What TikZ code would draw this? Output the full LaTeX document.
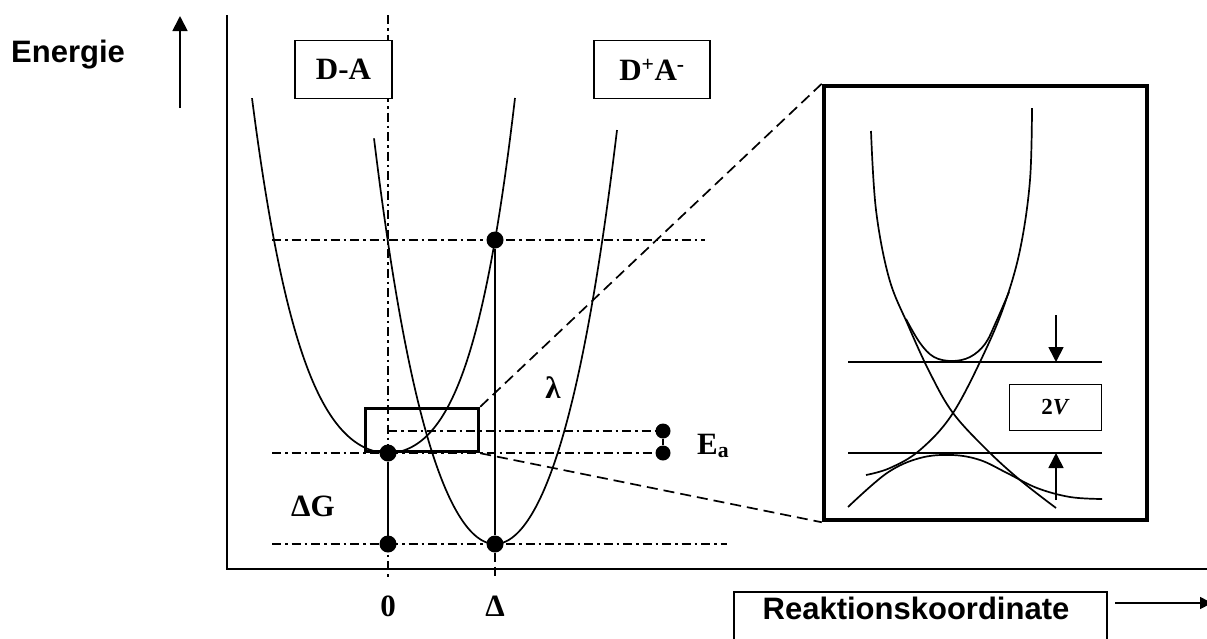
\documentclass[tikz,border=0pt]{standalone}
\usepackage{fontspec}
\setmainfont{Liberation Serif}
\newfontfamily\arialfont{Liberation Sans}
\usetikzlibrary{arrows.meta}
\begin{document}
\begin{tikzpicture}[x=1pt,y=-1pt,
  curve/.style={line width=1.7pt},
  dashdot/.style={line width=1.6pt, dash pattern=on 9pt off 4pt on 2.5pt off 4pt},
  zoomline/.style={line width=1.7pt, dash pattern=on 11pt off 6pt},
  dotnode/.style={circle, fill=black, inner sep=0pt, minimum size=17pt},
  smalldot/.style={circle, fill=black, inner sep=0pt, minimum size=15pt},
  labelbox/.style={draw, fill=white, line width=1.6pt, minimum height=58pt, inner sep=0pt},
  serifbold/.style={font=\fontsize{31}{36}\selectfont\bfseries, inner sep=0pt},
  sansbold/.style={font=\fontsize{31}{36}\selectfont\arialfont\bfseries, inner sep=0pt},
  bigtip/.style={-{Triangle[length=15pt,width=15pt]}},
]
\useasboundingbox (0,0) rectangle (1207,638);

% axes
\coordinate (ytop) at (227,15);
\coordinate (origin) at (227,569);
\coordinate (xend) at (1212,569);
\draw[line width=2.5pt] (ytop) -- (origin) -- (xend);

% Energie
\node[sansbold, anchor=base west] (energie) at (11,62) {Energie};
\coordinate (ea0) at (180,108);
\coordinate (ea1) at (180,16);
\draw[line width=1.8pt, bigtip] (ea0) -- (ea1);

% vertical reference line
\coordinate (v0top) at (388,15);
\coordinate (v0bot) at (388,578);
\draw[dashdot] (v0top) -- (v0bot);

% dots
\node[dotnode] (d0) at (388,453) {};
\node[dotnode] (d1) at (388,544) {};
\node[dotnode] (d2) at (495,240) {};
\node[dotnode] (d3) at (495,544) {};
\node[smalldot] (e1) at (663,431) {};
\node[smalldot] (e2) at (663,453) {};

\coordinate (v1bot) at (495,578);
\draw[line width=1.6pt, dash pattern=on 9pt off 5pt] (d3) -- (v1bot);

% horizontal dash-dot lines
\coordinate (h1a) at (272,240); \coordinate (h1b) at (705,240);
\coordinate (h2a) at (272,453);
\coordinate (h3a) at (388,431);
\coordinate (h4a) at (272,544); \coordinate (h4b) at (727,544);
\draw[dashdot] (h1a) -- (h1b);
\draw[dashdot] (h2a) -- (e2.west);
\draw[dashdot] (h3a) -- (e1.west);
\draw[dashdot] (h4a) -- (h4b);

% solid verticals
\draw[line width=1.7pt] (d2) -- (d3);
\draw[line width=1.7pt] (d0) -- (d1);
\draw[line width=2pt] (e1) -- (e2);

% D-A parabola
\draw[curve] plot[domain=-136:0, samples=70, smooth] ({388+\x},{453-(97.7*(\x/100)*(\x/100)+50.9*(\x/100)*(\x/100)*(\x/100)*(\x/100))})
  -- plot[domain=0:127, samples=70, smooth] ({388+\x},{453-(102.7*(\x/100)*(\x/100)+72.8*(\x/100)*(\x/100)*(\x/100)*(\x/100))});
% D+A- parabola
\draw[curve] plot[domain=-121:122, samples=121, smooth] ({495+\x},{544-(215*(\x/100)*(\x/100)+42.4*(\x/100)*(\x/100)*(\x/100)*(\x/100))});

% label boxes
\node[labelbox, minimum width=97pt] (boxDA) at (343.5,69.5) {};
\node[serifbold] (tDA) at (boxDA) {D-A};
\node[labelbox, minimum width=116pt] (boxDpAm) at (652,69.5) {};
\node[serifbold] (tDpAm) at (boxDpAm) {D\textsuperscript{+}A\textsuperscript{-}};

% labels
\node[serifbold] (lambda) at (553,388) {λ};
\node[serifbold, anchor=base west] (Ea) at (697,454) {E\textsubscript{a}};
\node[serifbold] (dG) at (313,506) {ΔG};
\node[serifbold] (zero) at (388,606) {0};
\node[serifbold] (Delta) at (495,606) {Δ};

% zoom box and inset
\node[draw, line width=3.5pt, minimum width=113pt, minimum height=43pt, inner sep=0pt] (zbox) at (422,430) {};
\node[draw, fill=white, line width=4.5pt, minimum width=323pt, minimum height=434pt, inner sep=0pt] (inset) at (985.5,303) {};
\draw[zoomline] (zbox.north east) -- (inset.north west);
\draw[zoomline] (zbox.south east) -- (inset.south west);

% inset contents
\coordinate (la) at (848,362); \coordinate (lb) at (1102,362);
\coordinate (lc) at (848,453); \coordinate (ld) at (1102,453);
\draw[line width=1.7pt] (la) -- (lb);
\draw[line width=1.7pt] (lc) -- (ld);
\coordinate (ar1) at (1056,315); \coordinate (ar1t) at (1056,362);
\coordinate (ar2) at (1056,500); \coordinate (ar2t) at (1056,453);
\draw[line width=1.6pt, bigtip] (ar1) -- (ar1t);
\draw[line width=1.6pt, bigtip] (ar2) -- (ar2t);
\node[draw, line width=1.6pt, minimum width=92pt, minimum height=46pt, inner sep=0pt] (vbox) at (1055.5,407.5) {};
\node[font=\fontsize{23}{26}\selectfont\bfseries, inner sep=0pt] (tV) at (vbox) {2\textit{V}};

% diabatic curves
\draw[curve] plot[smooth, tension=0.6] coordinates {(871,131) (876,210) (889,278) (908,325) (930,373) (953,413) (987,450) (1020,480) (1056,508)};
\draw[curve] plot[smooth, tension=0.6] coordinates {(1032,108) (1030,180) (1021,245) (1007,297) (987,347) (953,413) (920,450) (890,468) (866,475)};
% adiabatic curves
\draw[curve] plot[smooth, tension=0.6] coordinates {(906,319) (920,343) (934,357) (952,361) (970,357) (985,344) (996,322) (1009,292)};
\draw[curve] plot[smooth, tension=0.6] coordinates {(848,507) (887,473) (920,458) (952,455) (980,460) (1007,473) (1037,488) (1070,497) (1102,499)};

% Reaktionskoordinate
\node[draw, line width=1.6pt, minimum width=373pt, minimum height=58pt, inner sep=0pt] (rkbox) at (920.5,621) {};
\node[sansbold, anchor=base] (rk) at (916,619) {Reaktionskoordinate};
\coordinate (rk0) at (1115,603); \coordinate (rk1) at (1212,603);
\draw[line width=1.6pt, -{Triangle[length=12pt,width=12pt]}] (rk0) -- (rk1);
\end{tikzpicture}
\end{document}
